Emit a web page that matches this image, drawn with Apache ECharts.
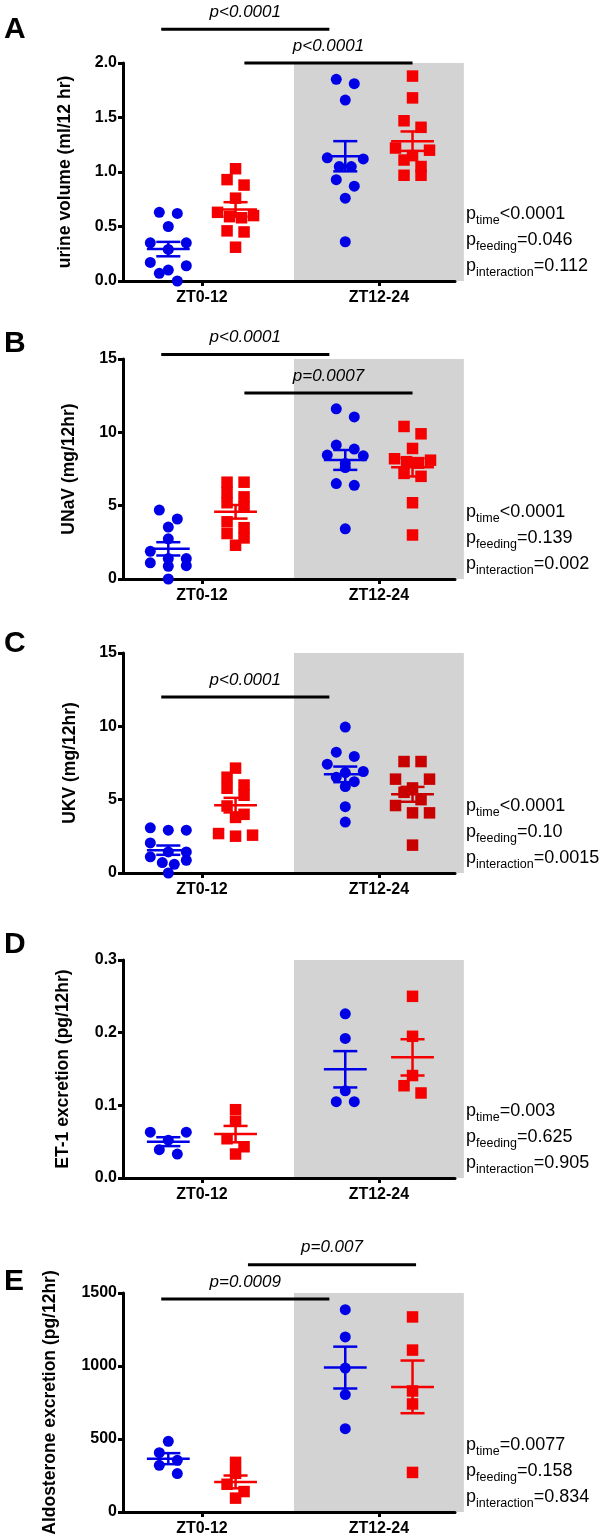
<!DOCTYPE html>
<html><head><meta charset="utf-8">
<script src="https://cdn.jsdelivr.net/npm/echarts@6/dist/echarts.min.js"></script>
<style>html,body{margin:0;padding:0;background:#fff}#c{width:606px;height:1540px}</style>
</head><body><div id="c"></div>
<script>
// ---------- DATA ----------
const groups = ['ZT0-12', 'ZT12-24'];

const A_blue_ZT0 = [0.63, 0.62, 0.50, 0.35, 0.35, 0.29, 0.17, 0.14, 0.10, 0.07, 0.00];
const A_red_ZT0  = [1.03, 0.93, 0.88, 0.76, 0.63, 0.60, 0.59, 0.58, 0.46, 0.45, 0.31];
const A_blue_ZT12 = [1.85, 1.81, 1.66, 1.13, 1.12, 1.05, 1.05, 0.93, 0.87, 0.76, 0.36];
const A_red_ZT12  = [1.88, 1.68, 1.47, 1.41, 1.22, 1.20, 1.15, 1.11, 1.05, 0.97, 0.97];

const B_blue_ZT0 = [4.70, 4.09, 3.54, 2.74, 1.89, 1.39, 1.39, 1.10, 0.91, 0.87, 0.00];
const B_red_ZT0  = [6.6, 6.6, 5.9, 5.6, 5.2, 4.9, 3.9, 3.5, 3.1, 2.8, 2.3];
const B_blue_ZT12 = [11.6, 11.05, 9.13, 8.86, 8.45, 8.40, 7.88, 7.60, 6.51, 6.39, 3.42];
const B_red_ZT12  = [10.4, 9.9, 8.9, 8.2, 8.1, 8.0, 7.9, 7.2, 7.0, 5.2, 3.0];

const C_blue_ZT0 = [3.08, 2.92, 2.92, 2.05, 1.44, 1.44, 1.10, 0.87, 0.71, 0.59, 0.00];
const C_red_ZT0  = [7.15, 6.53, 6.0, 5.78, 5.3, 4.57, 4.0, 3.79, 2.69, 2.58, 2.51];
const C_blue_ZT12 = [9.95, 8.24, 7.95, 7.42, 6.92, 6.85, 6.53, 6.23, 5.89, 4.52, 3.47];
const C_red_ZT12  = [7.6, 7.6, 6.4, 6.4, 5.8, 5.5, 5.0, 4.6, 4.1, 4.1, 1.9];

const D_blue_ZT0 = [0.063, 0.063, 0.052, 0.039, 0.033];
const D_red_ZT0  = [0.094, 0.078, 0.054, 0.043, 0.033];
const D_blue_ZT12 = [0.226, 0.192, 0.120, 0.105, 0.105];
const D_red_ZT12  = [0.250, 0.195, 0.141, 0.127, 0.117];

const E_blue_ZT0 = [484, 406, 354, 320, 263];
const E_red_ZT0  = [340, 265, 190, 140, 95];
const E_blue_ZT12 = [1386, 1199, 986, 804, 571];
const E_red_ZT12  = [1336, 1109, 829, 740, 271];

// significance bars: [x from, x to, y value, label]
const A_sig = [[-0.23, 0.72, 2.31, 'p<0.0001'], [0.24, 1.19, 2.0, 'p<0.0001']];
const B_sig = [[-0.23, 0.72, 15.3, 'p<0.0001'], [0.24, 1.19, 12.68, 'p=0.0007']];
const C_sig = [[-0.23, 0.72, 12.0, 'p<0.0001']];
const D_sig = [];
const E_sig = [[-0.23, 0.72, 1459, 'p=0.0009'], [0.26, 1.21, 1694, 'p=0.007']];

// two-way ANOVA results
const A_stats = [['time', '<0.0001'], ['feeding', '=0.046'], ['interaction', '=0.112']];
const B_stats = [['time', '<0.0001'], ['feeding', '=0.139'], ['interaction', '=0.002']];
const C_stats = [['time', '<0.0001'], ['feeding', '=0.10'], ['interaction', '=0.0015']];
const D_stats = [['time', '=0.003'], ['feeding', '=0.625'], ['interaction', '=0.905']];
const E_stats = [['time', '=0.0077'], ['feeding', '=0.158'], ['interaction', '=0.834']];

const yNames = ['urine volume (ml/12 hr)', 'UNaV (mg/12hr)', 'UKV (mg/12hr)', 'ET-1 excretion (pg/12hr)', 'Aldosterone excretion (pg/12hr)'];
const yMax = [2, 15, 15, 0.3, 1500];
const yStep = [0.5, 5, 5, 0.1, 500];
const letters = ['A', 'B', 'C', 'D', 'E'];

// ---------- LAYOUT / STYLE ----------
const FONT = '"Liberation Sans", Arial, Helvetica, sans-serif';
const BLUE = '#0000e6', RED = '#f50000', DARKRED = '#c80000';
const GRID_LEFT = 123, GRID_W = 332;
const tops = [63, 359, 653, 960, 1293];
const heights = [218, 220, 220, 218, 219];
const nameGaps = [49, 45, 44, 51, 64];
const letterY = [30, 344, 644, 945, 1282];
const X_MIN = -0.446, X_MAX = 1.43;
const OFF = 0.19;

const panels = [
  {blue: [A_blue_ZT0, A_blue_ZT12], red: [A_red_ZT0, A_red_ZT12], sig: A_sig, stats: A_stats, redCol: [RED, RED]},
  {blue: [B_blue_ZT0, B_blue_ZT12], red: [B_red_ZT0, B_red_ZT12], sig: B_sig, stats: B_stats, redCol: [RED, RED]},
  {blue: [C_blue_ZT0, C_blue_ZT12], red: [C_red_ZT0, C_red_ZT12], sig: C_sig, stats: C_stats, redCol: [RED, DARKRED]},
  {blue: [D_blue_ZT0, D_blue_ZT12], red: [D_red_ZT0, D_red_ZT12], sig: D_sig, stats: D_stats, redCol: [RED, RED]},
  {blue: [E_blue_ZT0, E_blue_ZT12], red: [E_red_ZT0, E_red_ZT12], sig: E_sig, stats: E_stats, redCol: [RED, RED]}
];

function mean(a) { return a.reduce((s, v) => s + v, 0) / a.length; }
function sem(a) {
  const m = mean(a);
  const sd = Math.sqrt(a.reduce((s, v) => s + (v - m) * (v - m), 0) / (a.length - 1));
  return sd / Math.sqrt(a.length);
}
const PX_PER_X = GRID_W / (X_MAX - X_MIN);
// row-based column-scatter layout: close values share a row and are spread symmetrically
function swarm(vals, center, pxPerY, spacing) {
  const sorted = vals.slice().sort((a, b) => b - a);
  const rows = [];
  sorted.forEach(v => {
    const r = rows[rows.length - 1];
    if (r && (r[0] - v) * pxPerY <= 9) r.push(v); else rows.push([v]);
  });
  const out = [];
  rows.forEach(r => {
    const n = r.length;
    const S = n > 1 ? Math.min(spacing, 36 / (n - 1)) : 0;
    const pos = [];
    for (let j = 0; j < n; j++) pos.push((j - (n - 1) / 2) * S);
    pos.sort((a, b) => Math.abs(b) - Math.abs(a) || a - b);
    r.forEach((v, j) => out.push([center + pos[j] / PX_PER_X, v]));
  });
  return out;
}
function renderMeanSem(params, api) {
  const x = api.value(0), m = api.value(1), s = api.value(2);
  const color = api.visual('color');
  const st = {stroke: color, lineWidth: 2.5, fill: null};
  const ln = (a, b) => ({type: 'line', shape: {x1: a[0], y1: a[1], x2: b[0], y2: b[1]}, style: st});
  return {type: 'group', children: [
    ln(api.coord([x - 0.121, m]), api.coord([x + 0.121, m])),
    ln(api.coord([x - 0.068, m + s]), api.coord([x + 0.068, m + s])),
    ln(api.coord([x - 0.068, m - s]), api.coord([x + 0.068, m - s])),
    ln(api.coord([x, m - s]), api.coord([x, m + s]))
  ]};
}

const grid = [], xAxis = [], yAxis = [], series = [];
panels.forEach((p, i) => {
  grid.push({left: GRID_LEFT, top: tops[i], width: GRID_W, height: heights[i]});
  xAxis.push({
    type: 'value', gridIndex: i, min: X_MIN, max: X_MAX,
    splitLine: {show: false},
    axisLine: {onZero: false, lineStyle: {color: '#000', width: 3}},
    axisTick: {customValues: [0, 1], length: 5, lineStyle: {color: '#000', width: 3}},
    axisLabel: {customValues: [0, 1], formatter: v => groups[Math.round(v)], color: '#000',
      fontFamily: FONT, fontWeight: 'bold', fontSize: 16, margin: 9}
  });
  const dec = yStep[i] < 1 ? 1 : 0;
  yAxis.push({
    type: 'value', gridIndex: i, min: 0, max: yMax[i], interval: yStep[i],
    splitLine: {show: false},
    axisLine: {show: true, onZero: false, lineStyle: {color: '#000', width: 3}},
    axisTick: {show: true, length: 5, lineStyle: {color: '#000', width: 3}},
    axisLabel: {formatter: v => v.toFixed(dec), color: '#000', fontFamily: FONT, fontWeight: 'bold', fontSize: 16, margin: 6},
    name: yNames[i], nameLocation: 'middle', nameGap: nameGaps[i], nameRotate: 90,
    nameTextStyle: {color: '#000', fontFamily: FONT, fontWeight: 'bold', fontSize: 17.5}
  });
  const pxPerY = heights[i] / yMax[i];
  const blueData = swarm(p.blue[0], -OFF, pxPerY, 18).concat(swarm(p.blue[1], 1 - OFF, pxPerY, 18));
  const redData = [];
  [0, 1].forEach(g => swarm(p.red[g], g + OFF, pxPerY, 17).forEach(d =>
    redData.push({value: d, itemStyle: {color: p.redCol[g]}})));
  series.push({type: 'scatter', xAxisIndex: i, yAxisIndex: i, symbol: 'circle', symbolSize: 11,
    itemStyle: {color: BLUE, opacity: 1}, data: blueData, z: 3, silent: true});
  series.push({type: 'scatter', xAxisIndex: i, yAxisIndex: i, symbol: 'rect', symbolSize: 11.5,
    itemStyle: {color: RED, opacity: 1}, data: redData, z: 3, silent: true});
  series.push({type: 'custom', xAxisIndex: i, yAxisIndex: i, renderItem: renderMeanSem, z: 4, silent: true,
    itemStyle: {color: BLUE},
    data: [0, 1].map(g => [g - OFF, mean(p.blue[g]), sem(p.blue[g])])});
  series.push({type: 'custom', xAxisIndex: i, yAxisIndex: i, renderItem: renderMeanSem, z: 4, silent: true,
    itemStyle: {color: RED},
    data: [0, 1].map(g => ({value: [g + OFF, mean(p.red[g]), sem(p.red[g])], itemStyle: {color: p.redCol[g]}}))});
});

const chart = echarts.init(document.getElementById('c'), null, {renderer: 'canvas'});
chart.setOption({animation: false, backgroundColor: '#fff', grid, xAxis, yAxis, series});

// ---------- annotations (positioned through the axes) ----------
const mctx = document.createElement('canvas').getContext('2d');
function tw(font, s) { mctx.font = font; return mctx.measureText(s).width; }
const MAIN_F = '18px ' + FONT, SUB_F = '12.5px ' + FONT;
const gfx = [];
panels.forEach((p, i) => {
  const px = (x, y) => chart.convertToPixel({gridIndex: i}, [x, y]);
  const a = px(0.52, yMax[i]), b = px(1.48, 0);
  gfx.push({type: 'rect', z: -1, shape: {x: a[0], y: a[1], width: b[0] - a[0], height: b[1] - a[1]},
    style: {fill: '#d3d3d3'}, silent: true});
  p.sig.forEach(s => {
    const l = px(s[0], s[2]), r = px(s[1], s[2]);
    gfx.push({type: 'line', z: 10, shape: {x1: l[0], y1: l[1], x2: r[0], y2: r[1]}, style: {stroke: '#000', lineWidth: 3}});
    gfx.push({type: 'text', z: 10, x: (l[0] + r[0]) / 2, y: l[1] - 17,
      style: {text: s[3], fill: '#000', font: 'italic 17px ' + FONT, align: 'center', verticalAlign: 'middle'}});
  });
  const base = px(0, 0)[1];
  [-67, -41, -15].forEach((dy, k) => {
    const y = base + dy;
    let x = 466;
    gfx.push({type: 'text', z: 10, x: x, y: y, style: {text: 'p', font: MAIN_F, fill: '#000', align: 'left', verticalAlign: 'middle'}});
    x += tw(MAIN_F, 'p');
    gfx.push({type: 'text', z: 10, x: x, y: y + 6.5, style: {text: p.stats[k][0], font: SUB_F, fill: '#000', align: 'left', verticalAlign: 'middle'}});
    x += tw(SUB_F, p.stats[k][0]);
    gfx.push({type: 'text', z: 10, x: x, y: y, style: {text: p.stats[k][1], font: MAIN_F, fill: '#000', align: 'left', verticalAlign: 'middle'}});
  });
  gfx.push({type: 'text', z: 10, x: 4, y: letterY[i],
    style: {text: letters[i], fill: '#000', font: 'bold 30px ' + FONT, align: 'left', verticalAlign: 'middle'}});
});
chart.setOption({graphic: {elements: gfx}});
</script>
</body></html>
